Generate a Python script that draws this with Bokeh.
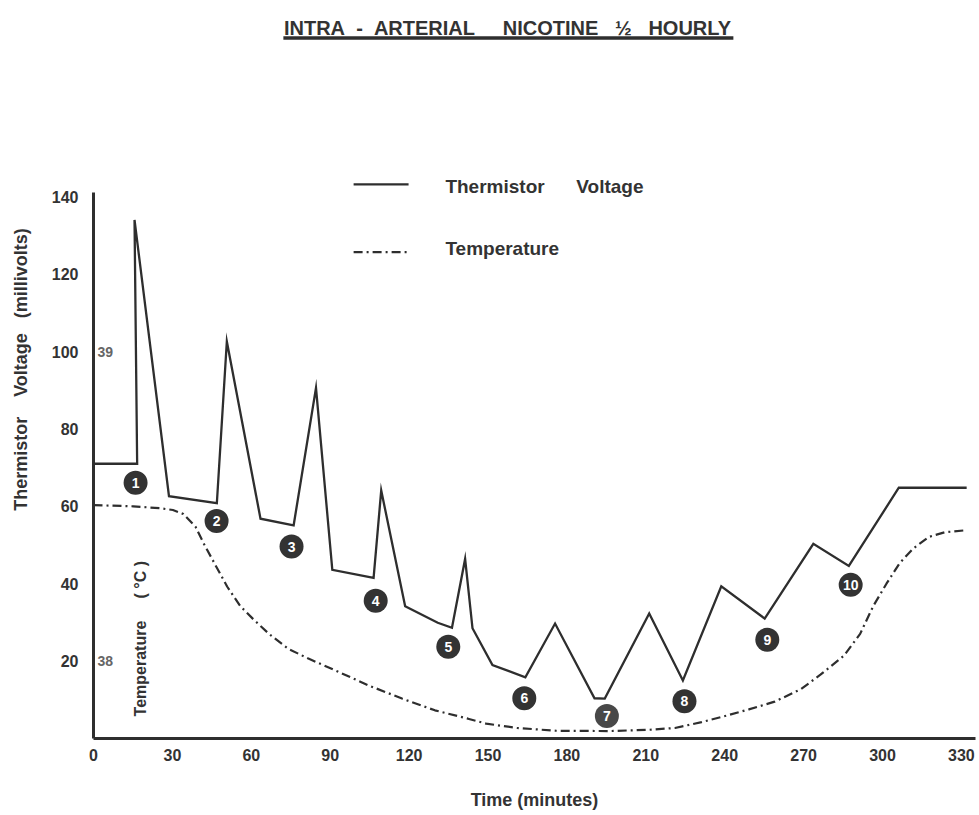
import math
from bokeh.plotting import figure
from bokeh.models import Range1d, FixedTicker, Label, ColumnDataSource
from bokeh.core.properties import value
from bokeh.embed import file_html
from bokeh.resources import INLINE

NB = "\u00a0"
FONT = "Liberation Sans"
INK = "#2e2e2e"

# ---------------- data ----------------
# Thermistor voltage (mV) vs time (minutes)
volt_time = [0, 16.6, 15.6, 28.7, 46.9, 50.7, 63.5, 76.1, 84.6, 90.8, 106.5, 109.4,
             118.5, 130.9, 136.3, 141.3, 144.1, 151.7, 164.2, 175.5, 190.5, 194.4,
             211.3, 224.1, 238.7, 255.2, 273.7, 287.2, 306.2, 332.0]
voltage_mv = [71.0, 71.0, 134.0, 62.6, 60.8, 102.6, 56.8, 55.1, 90.6, 43.6, 41.5, 64.1,
              34.2, 29.9, 28.6, 46.4, 28.5, 19.0, 15.8, 29.7, 10.4, 10.3,
              32.3, 15.0, 39.3, 31.0, 50.3, 44.6, 64.8, 64.8]

# Temperature (deg C) vs time (minutes)
temp_time = [0, 15.1, 25.1, 30.2, 34.2, 38.8, 41.9, 46.3, 50.8, 55.8, 60.8, 67.0, 74.0,
             81.5, 92.2, 104.7, 117.3, 129.8, 142.4, 149.3, 161.1, 175.9, 196.0, 211.1,
             221.1, 231.2, 241.2, 249.2, 259.0, 269.1, 276.4, 285.4, 291.5, 296.5,
             301.5, 306.5, 311.6, 317.6, 323.6, 332.0]
temp_c = [38.504, 38.500, 38.494, 38.488, 38.475, 38.434, 38.380, 38.311, 38.241, 38.178,
          38.135, 38.086, 38.040, 38.009, 37.969, 37.921, 37.879, 37.841, 37.814, 37.798,
          37.784, 37.775, 37.774, 37.778, 37.784, 37.803, 37.825, 37.844, 37.869, 37.910,
          37.956, 38.018, 38.088, 38.178, 38.250, 38.316, 38.363, 38.401, 38.416, 38.423]

# Numbered injection markers
dose_labels = ["1", "2", "3", "4", "5", "6", "7", "8", "9", "10"]
dose_time = [16.0, 46.8, 75.3, 107.3, 134.9, 163.8, 195.2, 224.7, 256.2, 287.9]
dose_mv = [66.1, 56.2, 49.6, 35.6, 23.7, 10.4, 5.8, 9.6, 25.5, 39.7]
dose_fill = ["#333333"] * 6 + ["#484848"] + ["#333333"] * 3

x_ticks = [0, 30, 60, 90, 120, 150, 180, 210, 240, 270, 300, 330]
y_ticks = [20, 40, 60, 80, 100, 120, 140]
temp_ticks = [38, 39]

title_text = ("INTRA" + NB + " - " + NB + "ARTERIAL" + NB * 5 + "NICOTINE" + NB * 3
              + "\u00bd" + NB * 3 + "HOURLY")

# ---------------- figure ----------------
W, H = 976, 812
LEFT, RIGHT, BOTTOM = 93, 1, 73
XPX, YPX = 2.63, 3.875
FRAME_W = W - LEFT - RIGHT
FRAME_H = H - BOTTOM
X_END = FRAME_W / XPX
Y_END = FRAME_H / YPX
p = figure(width=W, height=H, output_backend="svg", toolbar_location=None,
           x_range=Range1d(0, X_END), y_range=Range1d(0, Y_END),
           min_border_left=LEFT, min_border_right=RIGHT, min_border_top=0,
           min_border_bottom=BOTTOM, background_fill_color="white",
           border_fill_color="white", outline_line_color=None)
p.extra_y_ranges = {"temp": Range1d(38 + (0 - 20) / 80, 38 + (Y_END - 20) / 80)}
p.grid.visible = False

for ax in (p.xaxis[0], p.yaxis[0]):
    ax.axis_line_width = 3
    ax.axis_line_color = INK
    ax.major_tick_line_color = None
    ax.minor_tick_line_color = None
    ax.major_label_text_font = FONT
    ax.major_label_text_font_style = "bold"
    ax.major_label_text_font_size = "16px"
    ax.major_label_text_color = "#333333"
    ax.axis_label_text_font = FONT
    ax.axis_label_text_font_style = "bold"
    ax.axis_label_text_font_size = "18px"
    ax.axis_label_text_color = "#333333"

p.xaxis.ticker = FixedTicker(ticks=x_ticks)
p.xaxis.major_label_standoff = 4
p.xaxis.axis_label = "Time (minutes)"
p.xaxis.axis_label_standoff = 26

p.yaxis.ticker = FixedTicker(ticks=y_ticks)
p.yaxis.bounds = (0, 141)
p.yaxis.major_label_standoff = 9
p.yaxis.axis_label = "Thermistor" + NB * 4 + "Voltage" + NB * 3 + "(millivolts)"
p.yaxis.axis_label_standoff = 18

# ---------------- series ----------------
p.line(volt_time, voltage_mv, line_color=INK, line_width=2.3, line_join="miter")
p.line(temp_time, temp_c, y_range_name="temp", line_color=INK, line_width=2.2,
       line_dash="9 4 2 4")

src = ColumnDataSource(dict(x=dose_time, y=dose_mv, t=dose_labels, c=dose_fill))
p.scatter("x", "y", source=src, size=24, fill_color="c", line_color=None)
p.text("x", "y", text="t", source=src, text_color="white",
       text_font=value(FONT), text_font_style="bold", text_font_size="14px",
       text_align="center", text_baseline="middle")

# temperature scale labels inside the plot
for t in temp_ticks:
    p.add_layout(Label(x=1.5, y=t, y_range_name="temp", text=str(t),
                       text_font=FONT, text_font_style="bold", text_font_size="14px",
                       text_color="#666666", text_align="left", text_baseline="middle"))
p.add_layout(Label(x=17.9, y=25.8, text="Temperature" + NB * 5 + "(" + NB + "\u00b0C" + NB + ")",
                   angle=math.pi / 2, text_font=FONT, text_font_style="bold",
                   text_font_size="16px", text_color="#333333",
                   text_align="center", text_baseline="middle"))

# legend (drawn by hand like the original)
p.segment(x0=[98.9], y0=[143.2], x1=[119.8], y1=[143.2], line_color=INK, line_width=2.3)
p.segment(x0=[98.9], y0=[125.7], x1=[119.8], y1=[125.7], line_color=INK, line_width=2.2,
          line_dash="9 4 2 4")
p.add_layout(Label(x=133.8, y=142.7, text="Thermistor" + NB * 6 + "Voltage",
                   text_font=FONT, text_font_style="bold", text_font_size="19px",
                   text_color="#333333", text_align="left", text_baseline="middle"))
p.add_layout(Label(x=133.8, y=126.7, text="Temperature",
                   text_font=FONT, text_font_style="bold", text_font_size="19px",
                   text_color="#333333", text_align="left", text_baseline="middle"))

# title with underline
p.add_layout(Label(x=157.4, y=183.5, text=title_text, text_font=FONT,
                   text_font_style="bold", text_font_size="20px", text_color="#333333",
                   text_align="center", text_baseline="alphabetic"))
p.segment(x0=[72.2], y0=[181.0], x1=[243.3], y1=[181.0], line_color=INK, line_width=3.5)

open("out.html", "w").write(file_html(p, INLINE))
